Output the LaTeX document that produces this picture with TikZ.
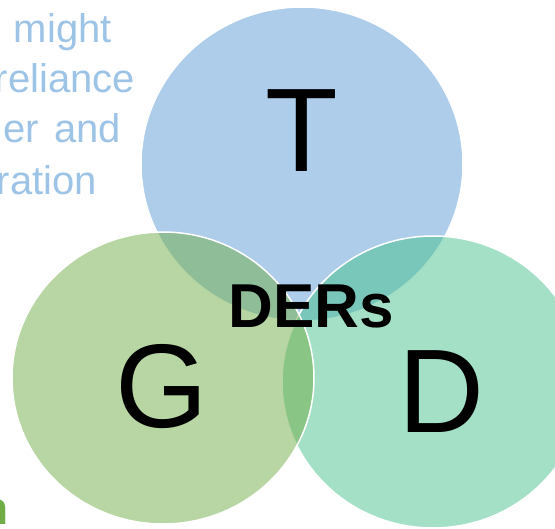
\documentclass[tikz,border=0pt]{standalone}
\usepackage{fontspec}
\setmainfont{Liberation Sans}
\usepackage{tikz}
\usetikzlibrary{positioning, shapes.geometric}

\definecolor{tBlue}{RGB}{91,155,213}
\definecolor{gGreen}{RGB}{112,173,71}
\definecolor{dGreen}{RGB}{71,193,141}
\definecolor{noteBlue}{RGB}{157,195,230}

\begin{document}
\begin{tikzpicture}[x=1pt, y=-1pt]
	\tikzset{
		venn/.style={ellipse, draw=white, line width=1.5pt, fill opacity=0.5, inner sep=0pt},
		big letter/.style={anchor=base, inner sep=0pt, font=\fontsize{119}{119}\selectfont},
		note/.style={anchor=base east, inner sep=0pt, text=noteBlue, font=\fontsize{40}{40}\selectfont}
	}
	\useasboundingbox (0,0) rectangle (555,529);
	\clip (0,0) rectangle (555,529);
	% the three circles, T first, then D, then G on top
	\node[venn, fill=tBlue, minimum width=322pt, minimum height=314pt] (cT) at (302,164) {};
	\node[venn, fill=dGreen, minimum width=302pt, minimum height=292pt] (cD) at (433,382) {};
	\node[venn, fill=gGreen, minimum width=302pt, minimum height=292pt] (cG) at (163,378) {};
	% letters
	\node[big letter] (lT) at (302,172) {T};
	\node[big letter] (lG) at (162,428) {G};
	\node[big letter] (lD) at (441,433) {D};
	\node[anchor=base, inner sep=0pt, font=\fontsize{62}{62}\selectfont\bfseries] (ders) at (311,327.5) {DERs};
	% text running off the left side (justified lines)
	\foreach \t/\x/\y [count=\i] in {might/112/43, reliance/135/93, er\hspace{15pt}and/121/143, ration/97/195} {
		\node[note] (txt\i) at (\x,\y) {\t};
	}
	\node[anchor=base east, inner sep=0pt, text=gGreen, font=\fontsize{46}{46}\selectfont\bfseries] (txtn) at (8.5,525) {n};
\end{tikzpicture}
\end{document}
